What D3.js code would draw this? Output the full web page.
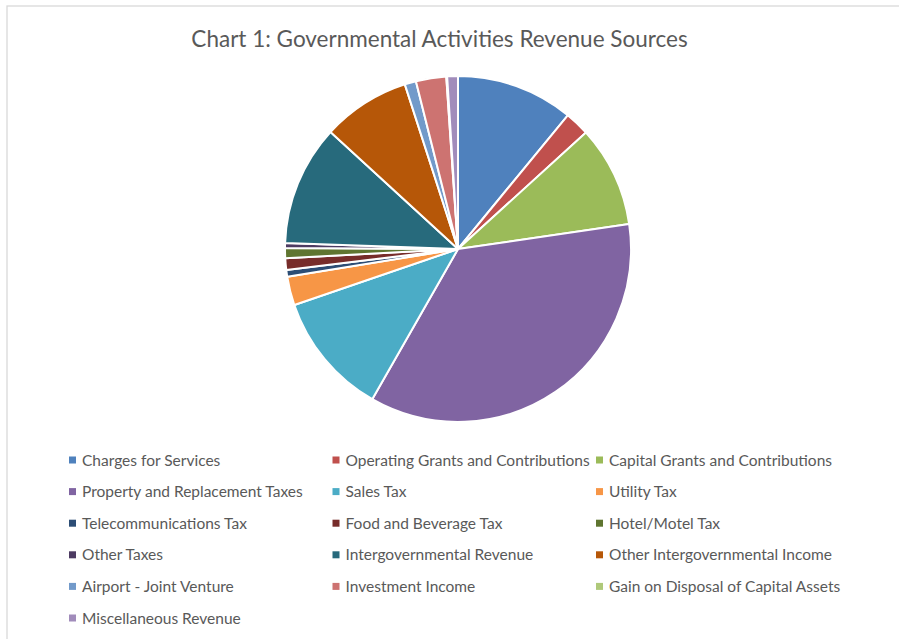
<!DOCTYPE html>
<html>
<head>
<meta charset="utf-8">
<script src="https://cdn.jsdelivr.net/npm/d3@7"></script>
<style>
  html, body { margin: 0; padding: 0; background: #fff; }
  svg { display: block; }
</style>
</head>
<body>
<svg id="chart" width="899" height="639"></svg>
<script>
// Revenue source categories, in drawing order (clockwise from 12 o'clock)
const categories = [
  "Charges for Services",
  "Operating Grants and Contributions",
  "Capital Grants and Contributions",
  "Property and Replacement Taxes",
  "Sales Tax",
  "Utility Tax",
  "Telecommunications Tax",
  "Food and Beverage Tax",
  "Hotel/Motel Tax",
  "Other Taxes",
  "Intergovernmental Revenue",
  "Other Intergovernmental Income",
  "Airport - Joint Venture",
  "Investment Income",
  "Gain on Disposal of Capital Assets",
  "Miscellaneous Revenue"
];

// Share of total governmental activities revenue (%)
const shares = [10.94, 2.31, 9.44, 35.56, 11.5, 2.67, 0.64, 1.08, 0.94, 0.47, 11.25, 8.22, 1.06, 2.83, 0.08, 1.0];

const sliceColors = [
  "#4F81BD", "#C0504D", "#9BBB59", "#8064A2", "#4BACC6", "#F79646",
  "#2C4D75", "#772C2A", "#5F7530", "#4D3B62", "#276A7C", "#B65708",
  "#729ACA", "#CD7371", "#AFC97A", "#A18CBB"
];

const titleText = "Chart 1: Governmental Activities Revenue Sources";

const svg = d3.select("#chart");
const W = 899, H = 639;
const textColor = "#595959";
const fontFamily = "Lato, 'Open Sans', sans-serif";

// chart frame
svg.append("rect")
  .attr("x", 7).attr("y", 6)
  .attr("width", W + 10).attr("height", H + 10)
  .attr("fill", "#fff")
  .attr("stroke", "#D9D9D9")
  .attr("stroke-width", 1.3);

// title
svg.append("text")
  .attr("x", 439.5).attr("y", 47)
  .attr("text-anchor", "middle")
  .attr("fill", textColor)
  .attr("font-family", fontFamily)
  .attr("font-size", 22.5)
  .text(titleText);

// pie
const cx = 458, cy = 249, radius = 173;
const color = d3.scaleOrdinal().domain(categories).range(sliceColors);
const data = categories.map((c, i) => ({ name: c, value: shares[i] }));

const pie = d3.pie().sort(null).value(d => d.value).startAngle(0).endAngle(2 * Math.PI);
const arc = d3.arc().innerRadius(0).outerRadius(radius);

svg.append("g")
  .attr("transform", `translate(${cx},${cy})`)
  .selectAll("path")
  .data(pie(data))
  .join("path")
  .attr("d", arc)
  .attr("fill", d => color(d.data.name))
  .attr("stroke", "#fff")
  .attr("stroke-width", 2)
  .attr("stroke-linejoin", "round");

// legend: three columns
const colX = d3.scalePoint().domain([0, 1, 2]).range([69, 596]);
const rowY = d3.scaleLinear().domain([0, 5]).range([460, 618]);

const legend = svg.append("g")
  .selectAll("g")
  .data(categories)
  .join("g")
  .attr("transform", (d, i) => `translate(${colX(i % 3)},${rowY(Math.floor(i / 3))})`);

legend.append("rect")
  .attr("x", 0).attr("y", -3.5)
  .attr("width", 7).attr("height", 7)
  .attr("fill", d => color(d));

legend.append("text")
  .attr("x", 13).attr("y", 5.5)
  .attr("fill", textColor)
  .attr("font-family", fontFamily)
  .attr("font-size", 15.5)
  .text(d => d);
</script>
</body>
</html>
